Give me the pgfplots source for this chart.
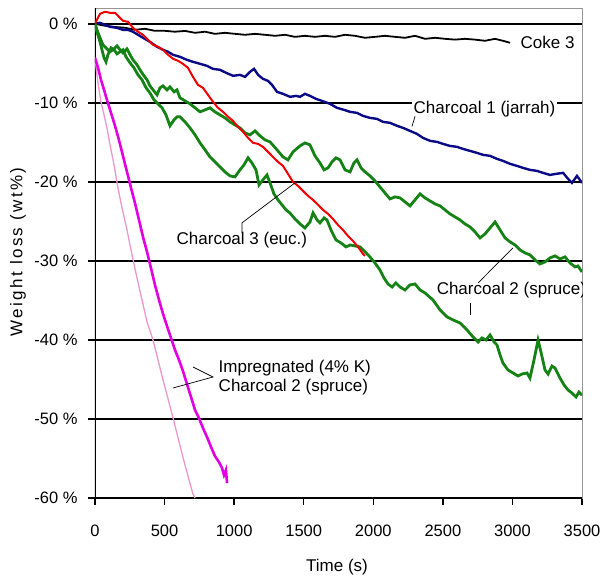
\documentclass[border=0pt]{standalone}
\usepackage{pgfplots}
\pgfplotsset{compat=1.18}
\usepackage{fontspec}
\setmainfont{Liberation Sans}
\definecolor{navyc}{RGB}{10,10,135}
\definecolor{redc}{RGB}{240,0,0}
\definecolor{greenc}{RGB}{20,130,20}
\definecolor{magc}{RGB}{225,0,225}
\definecolor{pinkc}{RGB}{235,150,205}
\definecolor{framec}{RGB}{150,150,150}
\begin{document}
\begin{tikzpicture}
\useasboundingbox (-95pt,-80pt) rectangle (506pt,498pt);
\begin{axis}[
  at={(0pt,0pt)}, anchor=south west,
  scale only axis, width=487pt, height=490pt,
  xmin=0, xmax=3500, ymin=-60, ymax=2,
  xtick={0,500,1000,1500,2000,2500,3000,3500},
  xticklabels={0,500,1000,1500,2000,2500,3000,3500},
  ytick={-60,-50,-40,-30,-20,-10,0},
  yticklabels={-60 \%,-50 \%,-40 \%,-30 \%,-20 \%,-10 \%,0 \%},
  xtick pos=bottom, ytick pos=left,
  tick align=outside,
  major tick length=7pt,
  every tick/.style={black, line width=1.5pt},
  tick label style={font=\fontsize{16.5}{18}\selectfont},
  xticklabel style={yshift=-16pt},
  yticklabel style={xshift=-7pt},
  ymajorgrids,
  grid style={black, line width=1.5pt},
  axis line style={framec, line width=0.8pt},
  clip=true,
]
% frame left/bottom black
\draw[black, line width=1.8pt] (rel axis cs:0,1) -- (rel axis cs:0,0) -- (rel axis cs:1,0);
% Coke 3
\addplot[black, line width=1.8pt] coordinates {
(0,0) (72,-0.25) (144,-0.4) (216,-0.5) (287,-0.76) (359,-0.63) (431,-0.89) (503,-0.89) (575,-1.0) (647,-0.9) (719,-1.14) (791,-1.0) (862,-1.27) (934,-1.14) (1006,-1.27) (1078,-1.39) (1150,-1.27) (1222,-1.39) (1294,-1.52) (1366,-1.39) (1437,-1.65) (1509,-1.52) (1581,-1.65) (1653,-1.52) (1725,-1.65) (1797,-1.39) (1869,-1.52) (1941,-1.77) (2012,-1.65) (2084,-1.52) (2156,-1.65) (2228,-1.77) (2300,-1.52) (2372,-1.9) (2444,-1.77) (2516,-1.9) (2587,-2.0) (2659,-1.9) (2731,-2.0) (2803,-2.15) (2875,-1.9) (2932,-2.15) (2983,-2.4)
};
% Charcoal 1 (jarrah)
\addplot[navyc, line width=2.4pt] coordinates {
(0,0) (36,0.13) (72,-0.13) (108,-0.38) (158,-0.51) (201,-0.76) (237,-0.76) (273,-1.01) (309,-1.39) (345,-1.77) (395,-2.28) (446,-2.91) (489,-3.29) (525,-3.54) (561,-3.92) (611,-4.18) (661,-4.56) (704,-4.81) (755,-5.06) (805,-5.32) (848,-5.70) (898,-5.82) (942,-6.20) (992,-6.58) (1042,-6.46) (1078,-6.71) (1114,-6.08) (1143,-5.70) (1172,-6.46) (1207,-6.96) (1243,-7.22) (1272,-7.72) (1308,-8.61) (1351,-8.86) (1402,-9.24) (1445,-9.12) (1473,-9.24) (1509,-8.86) (1545,-9.12) (1588,-9.50) (1631,-9.75) (1689,-10.13) (1739,-10.63) (1790,-10.89) (1833,-11.14) (1883,-11.27) (1926,-11.65) (1976,-11.90) (2027,-12.03) (2070,-12.41) (2120,-12.53) (2171,-12.91) (2214,-13.17) (2264,-13.55) (2314,-13.93) (2357,-14.43) (2408,-14.81) (2458,-14.94) (2501,-15.19) (2551,-15.45) (2602,-15.57) (2645,-15.83) (2695,-16.08) (2745,-16.33) (2789,-16.58) (2839,-16.71) (2889,-17.09) (2932,-17.34) (2983,-17.72) (3033,-17.98) (3076,-18.23) (3126,-18.48) (3177,-18.61) (3220,-18.86) (3270,-19.12) (3313,-18.99) (3364,-18.86) (3400,-19.62) (3428,-20.13) (3464,-19.24) (3500,-20.13)
};
% Charcoal 2 (spruce) upper
\addplot[greenc, line width=2.8pt] coordinates {
(0,0) (14,-0.76) (36,-1.77) (57,-2.66) (79,-3.04) (108,-3.54) (129,-3.29) (158,-2.79) (180,-3.29) (201,-3.67) (230,-3.17) (252,-3.92) (273,-4.56) (302,-5.19) (323,-5.82) (352,-6.58) (374,-7.09) (395,-7.85) (417,-8.36) (446,-8.99) (467,-8.10) (489,-7.85) (517,-8.36) (539,-7.98) (568,-8.61) (589,-8.36) (611,-9.37) (647,-9.75) (683,-10.13) (719,-10.63) (755,-11.14) (791,-10.89) (826,-10.63) (862,-11.14) (898,-11.52) (934,-11.90) (970,-12.41) (1006,-12.79) (1042,-13.17) (1078,-13.80) (1114,-14.05) (1150,-13.55) (1186,-14.18) (1222,-14.69) (1258,-14.94) (1308,-15.95) (1351,-16.84) (1387,-17.22) (1423,-16.20) (1473,-15.45) (1509,-15.07) (1545,-15.32) (1581,-16.71) (1617,-17.60) (1646,-18.48) (1675,-18.23) (1703,-17.47) (1732,-16.96) (1761,-17.22) (1797,-18.48) (1833,-18.74) (1861,-17.60) (1883,-17.22) (1912,-18.23) (1941,-18.74) (1976,-19.24) (2012,-19.88) (2048,-20.64) (2084,-21.40) (2120,-22.16) (2156,-21.90) (2192,-22.03) (2228,-22.53) (2264,-23.04) (2300,-22.28) (2336,-21.52) (2372,-22.03) (2408,-22.41) (2444,-22.79) (2480,-23.04) (2516,-23.55) (2551,-24.05) (2587,-24.43) (2623,-24.81) (2659,-25.32) (2695,-25.70) (2731,-26.33) (2767,-27.09) (2803,-26.59) (2839,-25.83) (2875,-25.07) (2911,-26.08) (2947,-27.09) (2983,-27.60) (3019,-27.98) (3054,-28.61) (3090,-28.99) (3126,-29.24) (3162,-29.88) (3198,-30.38) (3234,-30.13) (3270,-29.62) (3306,-29.37) (3342,-29.75) (3378,-29.49) (3414,-30.26) (3450,-30.76) (3471,-30.64) (3500,-31.40)
};
% Charcoal 2 (spruce) lower
\addplot[greenc, line width=2.8pt] coordinates {
(0,0) (14,-1.01) (36,-2.28) (50,-3.29) (65,-4.30) (79,-4.81) (93,-3.92) (115,-3.04) (137,-3.29) (158,-3.80) (180,-3.54) (201,-3.29) (223,-4.18) (252,-4.94) (280,-5.57) (309,-6.46) (338,-7.09) (367,-8.10) (395,-8.74) (424,-9.62) (453,-10.13) (482,-10.63) (510,-11.52) (539,-12.91) (568,-12.15) (589,-11.77) (611,-11.77) (647,-12.41) (683,-13.17) (719,-14.05) (755,-15.07) (791,-15.95) (826,-16.84) (862,-17.47) (898,-18.10) (934,-18.74) (970,-19.24) (1006,-19.37) (1042,-18.48) (1071,-17.85) (1100,-16.96) (1128,-17.60) (1157,-18.48) (1179,-20.38) (1207,-19.75) (1236,-19.12) (1258,-20.13) (1286,-21.52) (1315,-22.28) (1344,-22.91) (1373,-23.55) (1401,-23.93) (1437,-24.69) (1473,-25.32) (1509,-25.83) (1545,-25.07) (1567,-23.93) (1596,-24.81) (1617,-25.19) (1646,-24.56) (1667,-24.81) (1696,-26.08) (1732,-27.35) (1768,-27.73) (1804,-28.23) (1833,-27.98) (1869,-28.11) (1905,-28.23) (1941,-28.86) (1976,-29.50) (2012,-30.26) (2048,-31.14) (2077,-32.16) (2106,-32.92) (2135,-33.30) (2163,-32.79) (2192,-33.30) (2228,-33.68) (2264,-33.04) (2300,-32.92) (2336,-33.68) (2372,-34.06) (2429,-34.94) (2480,-36.21) (2530,-37.09) (2573,-37.47) (2623,-37.85) (2674,-38.74) (2717,-39.63) (2753,-40.26) (2781,-39.75) (2810,-40.01) (2839,-39.37) (2868,-40.26) (2889,-40.64) (2911,-41.90) (2932,-42.92) (2968,-43.80) (3004,-44.18) (3040,-44.56) (3069,-44.31) (3105,-44.18) (3126,-44.82) (3155,-42.54) (3184,-40.01) (3205,-41.52) (3234,-43.80) (3256,-44.31) (3284,-43.30) (3306,-43.55) (3342,-44.82) (3371,-45.70) (3400,-46.34) (3428,-46.72) (3457,-47.22) (3478,-46.59) (3500,-46.97)
};
% Charcoal 3 (euc.)
\addplot[redc, line width=2pt] coordinates {
(0,0) (14,0.51) (36,1.27) (72,1.52) (108,1.39) (144,1.39) (172,0.89) (201,0.38) (237,0.25) (273,-0.51) (309,-1.01) (345,-1.39) (381,-2.03) (417,-2.66) (453,-2.91) (489,-3.29) (525,-3.92) (561,-4.43) (597,-4.68) (632,-5.06) (668,-5.57) (704,-6.71) (740,-7.72) (776,-8.10) (812,-8.99) (848,-9.87) (884,-10.63) (920,-11.14) (956,-11.77) (992,-12.28) (1028,-13.04) (1064,-13.67) (1100,-14.43) (1136,-15.06) (1171,-15.19) (1207,-15.57) (1243,-16.20) (1279,-16.84) (1315,-17.47) (1351,-17.98) (1387,-18.99) (1423,-20.0) (1459,-20.51) (1495,-21.14) (1531,-21.77) (1567,-22.28) (1603,-22.91) (1639,-23.55) (1675,-24.05) (1710,-24.69) (1746,-25.44) (1782,-26.08) (1818,-26.84) (1854,-27.47) (1890,-28.23) (1926,-29.11) (1940,-29.37)
};
% Impregnated, light
\addplot[pinkc, line width=1.3pt] coordinates {
(0,-4.30) (14,-6.46) (29,-8.36) (43,-9.87) (65,-11.52) (86,-13.17) (108,-15.32) (137,-17.85) (165,-20.76) (194,-23.29) (230,-26.08) (266,-29.24) (302,-32.16) (338,-34.94) (374,-37.73) (417,-40.01) (453,-42.54) (489,-45.07) (525,-47.47) (561,-49.88) (597,-52.41) (632,-54.82) (668,-57.22) (704,-59.50) (719,-60.01)
};
% Impregnated, magenta
\addplot[magc, line width=2.6pt] coordinates {
(0,-4.30) (22,-5.57) (43,-7.09) (65,-8.36) (86,-9.62) (115,-11.27) (144,-12.91) (172,-14.69) (201,-16.71) (230,-18.74) (259,-20.76) (287,-22.66) (316,-24.81) (345,-26.97) (374,-28.86) (402,-30.89) (431,-33.04) (460,-34.94) (489,-36.71) (517,-38.23) (546,-39.75) (575,-41.27) (604,-42.54) (632,-43.93) (661,-45.58) (690,-47.22) (719,-48.87) (747,-49.88) (776,-51.15) (805,-52.29) (834,-53.55) (862,-54.69) (891,-55.45) (913,-56.21) (927,-57.10) (941,-56.46) (949,-58.11)
};
% labels
\tikzset{lab/.style={font=\fontsize{17}{19}\selectfont, inner sep=1.5pt}}
\node[lab, anchor=west] at (axis cs:3047,-2.4) {Coke 3};
\node[lab, anchor=west, fill=white] at (axis cs:2278,-10.8) {Charcoal 1 (jarrah)};
\draw[black, line width=0.7pt] (axis cs:2300,-11.7) -- (axis cs:2278,-13.0);
\node[lab, anchor=west] at (axis cs:575,-27.35) {Charcoal 3 (euc.)};
\draw[black, line width=0.7pt] (axis cs:1056,-26.46) -- (axis cs:1056,-25.19) -- (axis cs:1437,-20.13);
\node[lab, anchor=west] at (axis cs:2444,-33.7) {Charcoal 2 (spruce)};
\draw[black, line width=0.7pt] (axis cs:2753,-32.79) -- (axis cs:3004,-28.36);
\draw[black, line width=0.7pt] (axis cs:2695,-35.3) -- (axis cs:2695,-36.8);
\node[lab, anchor=west, align=left] at (axis cs:877,-44.8) {Impregnated (4\% K)\\Charcoal 2 (spruce)};
\draw[black, line width=0.7pt] (axis cs:704,-43.42) -- (axis cs:848,-44.69) -- (axis cs:561,-46.08);
\end{axis}
\node[rotate=90, font=\fontsize{17}{19}\selectfont\addfontfeature{LetterSpace=14}] at (-77pt,246pt) {Weight loss (wt\%)};
\node[font=\fontsize{17}{19}\selectfont] at (242pt,-69pt) {Time (s)};
\end{tikzpicture}
\end{document}
